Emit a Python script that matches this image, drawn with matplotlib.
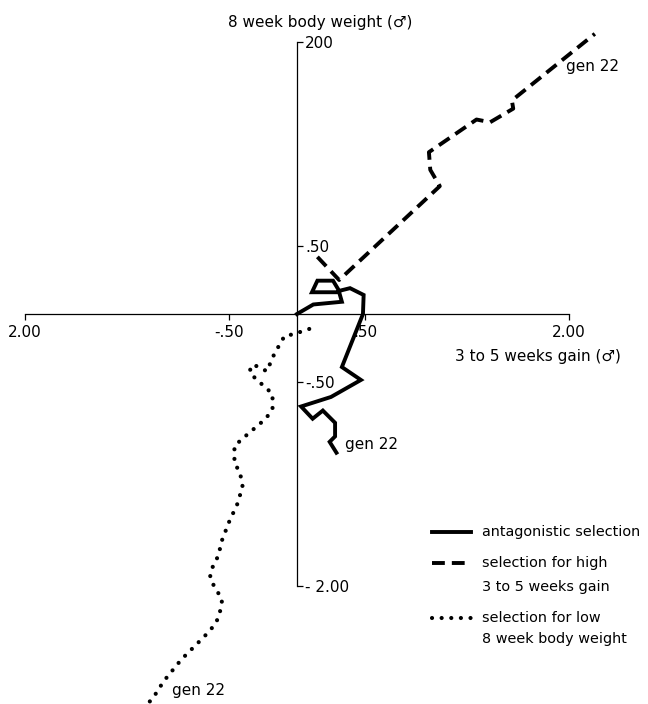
import matplotlib
matplotlib.use('Agg')
import matplotlib.pyplot as plt
from matplotlib.lines import Line2D

plt.rcParams['font.family'] = ['DejaVu Sans']

# response trajectories, in units of sigma (x = 3-5 week gain, y = 8 week weight)
antag_x = [0, 0.12, 0.33, 0.31, 0.11, 0.15, 0.265, 0.31, 0.39, 0.49, 0.485,
           0.33, 0.47, 0.25, 0.03, 0.115, 0.19, 0.28, 0.28, 0.24, 0.29]
antag_y = [0, 0.07, 0.09, 0.16, 0.16, 0.245, 0.245, 0.17, 0.19, 0.14, 0,
           -0.39, -0.485, -0.61, -0.68, -0.77, -0.71, -0.80, -0.90, -0.94, -1.02]

high_x = [0.15, 0.31, 1.05, 0.98, 0.97, 1.32, 1.42, 1.59, 1.58, 2.19]
high_y = [0.42, 0.25, 0.94, 1.06, 1.19, 1.43, 1.41, 1.51, 1.57, 2.06]

low_x = [0.09, -0.03, -0.09, -0.12, -0.18, -0.22, -0.27, -0.32, -0.35, -0.31,
         -0.21, -0.18, -0.18, -0.23, -0.37, -0.46, -0.46, -0.42, -0.40, -0.44,
         -0.50, -0.55, -0.58, -0.63, -0.64, -0.61, -0.55, -0.57, -0.60, -0.68,
         -0.85, -0.98, -1.05, -1.10]
low_y = [-0.11, -0.15, -0.16, -0.21, -0.32, -0.42, -0.40, -0.37, -0.42, -0.47,
         -0.56, -0.59, -0.70, -0.77, -0.89, -0.97, -1.10, -1.16, -1.27, -1.40,
         -1.53, -1.66, -1.78, -1.88, -1.94, -2.00, -2.10, -2.21, -2.28, -2.37,
         -2.54, -2.70, -2.81, -2.87]

xticks = [-2, -0.5, 0.5, 2]
xtick_labels = ['2.00', '-.50', '.50', '2.00']
yticks = [-2, -0.5, 0.5, 2]
ytick_labels = ['- 2.00', '-.50', '.50', '200']

legend_labels = [['antagonistic selection'],
                 ['selection for high', '3 to 5 weeks gain'],
                 ['selection for low', '8 week body weight']]

solid = dict(color='black', lw=2.8, solid_joinstyle='miter')
dashed = dict(color='black', lw=2.8, dashes=(3.3, 1.8))
dotted = dict(color='black', lw=3.0, dashes=(0.01, 2.3), dash_capstyle='round')

fig = plt.figure(figsize=(6.48, 7.04), dpi=100)
ax = fig.add_axes([0, 0, 1, 1])
ax.set_xlim(-297 / 136, 351 / 136)
ax.set_ylim(-390 / 136, 314 / 136)

ax.plot(antag_x, antag_y, **solid)
ax.plot(high_x, high_y, **dashed)
ax.plot(low_x, low_y, **dotted)

# axes through the origin
ax.spines['top'].set_visible(False)
ax.spines['left'].set_visible(False)
ax.spines['right'].set_position(('data', 0))
ax.spines['bottom'].set_position(('data', 0))
ax.spines['right'].set_bounds(-2, 2)
ax.spines['bottom'].set_bounds(-2, 2)
for s in ['right', 'bottom']:
    ax.spines[s].set_linewidth(0.9)
ax.yaxis.tick_right()
ax.set_xticks(xticks)
ax.set_xticklabels(xtick_labels)
ax.set_yticks(yticks)
ax.set_yticklabels(ytick_labels)
ax.tick_params(direction='out', length=4, width=0.9, labelsize=11, pad=2)
ax.tick_params(axis='x', pad=4)

fig.text(320 / 648, 1 - 23 / 704, '8 week body weight (♂)', ha='center', va='center', fontsize=11)
fig.text(538 / 648, 1 - 357 / 704, '3 to 5 weeks gain (♂)', ha='center', va='center', fontsize=11)

fig.text(566 / 648, 1 - 66 / 704, 'gen 22', ha='left', va='center', fontsize=11)
fig.text(345 / 648, 1 - 445 / 704, 'gen 22', ha='left', va='center', fontsize=11)
fig.text(172 / 648, 1 - 690 / 704, 'gen 22', ha='left', va='center', fontsize=11)

# key, drawn by hand so the sample sits on the first text line
key_rows = [[532], [563, 587], [618, 639]]
for style, rows, labels in zip([solid, dashed, dotted], key_rows, legend_labels):
    y0 = 1 - rows[0] / 704
    fig.add_artist(Line2D([432 / 648, 471 / 648], [y0, y0], transform=fig.transFigure, **style))
    for r, lab in zip(rows, labels):
        fig.text(482 / 648, 1 - r / 704, lab, ha='left', va='center', fontsize=10.4)

fig.savefig('out.png', dpi=100)
